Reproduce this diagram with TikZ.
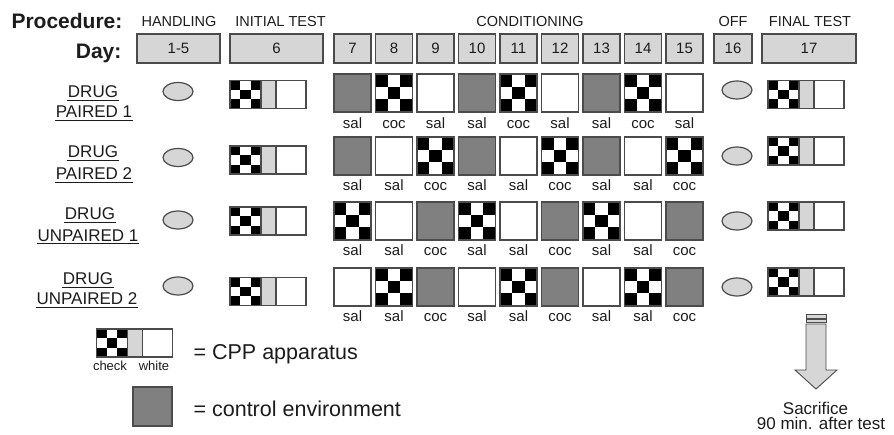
\documentclass[tikz,border=0pt]{standalone}
\usepackage{fontspec}
\setmainfont{Liberation Sans}
\usetikzlibrary{shapes.geometric}
\definecolor{pdlite}{RGB}{214,214,214}
\definecolor{pdmid}{RGB}{128,128,128}
\definecolor{pdedge}{RGB}{75,75,75}
\definecolor{pdink}{RGB}{28,28,28}
\tikzset{
  pics/cpp/.style={code={
    \fill[white] (-38,-14) rectangle (38,14);
    \fill[pdlite] (-7,-14) rectangle (8,14);
    \foreach \i/\j in {0/0,2/0,1/1,0/2,2/2}
      \fill[black] ({-38+\i*31/3},{-14+\j*28/3}) rectangle ++(31/3,28/3);
    \draw[pdedge] (-38,-14) rectangle (38,14) (-7,-14) -- (-7,14) (8,-14) -- (8,14);
  }}
}

\begin{document}
\begin{tikzpicture}[x=1pt,y=-1pt,line width=1.2pt,
  big/.style={font=\bfseries\fontsize{21}{24}\selectfont,text=pdink,anchor=base east,inner sep=0pt},
  head/.style={font=\fontsize{14.5}{17}\selectfont,text=pdink,anchor=base},
  daybox/.style={draw=pdedge,fill=pdlite,minimum height=29pt,inner sep=0pt,font=\fontsize{15}{17}\selectfont,text=pdink},
  grp/.style={font=\fontsize{17}{20}\selectfont,text=pdink,anchor=base,inner sep=0pt},
  uline/.style={pdink,line width=1pt},
  sq/.style={draw=pdedge,minimum width=37pt,minimum height=38pt,inner sep=0pt},
  ctl/.style={fill=pdmid},
  wht/.style={fill=white},
  chk/.style={fill=white,path picture={
    \foreach \i/\j in {0/0,2/0,1/1,0/2,2/2}
      \fill[black] ([shift={(\i*37/3,\j*38/3)}]path picture bounding box.north west) rectangle ++(37/3,38/3);}},
  dose/.style={font=\fontsize{15}{17}\selectfont,text=pdink,anchor=base},
  oval/.style={ellipse,draw=pdedge,fill=pdlite,minimum width=30pt,minimum height=18pt,inner sep=0pt},
  keytxt/.style={font=\fontsize{13}{15}\selectfont,text=pdink,anchor=base},
  legend/.style={font=\fontsize{21.5}{24}\selectfont,text=pdink,anchor=base west,inner sep=0pt},
  sacr/.style={font=\fontsize{17}{19}\selectfont,text=pdink,anchor=base}]

  \useasboundingbox (0,0) rectangle (894,435);

  \node[big] (proc) at (123,29) {Procedure:};
  \node[big] (day) at (122,59) {Day:};
  \node[head] (hand) at (179,26.5) {HANDLING};
  \node[head] (init) at (280.5,26.5) {INITIAL TEST};
  \node[head] (cond) at (530,26.5) {CONDITIONING};
  \node[head] (off) at (733,26.5) {OFF};
  \node[head] (fin) at (810,26.5) {FINAL TEST};

  \node[daybox,minimum width=83pt] (d5) at (178.5,48.5) {1-5};
  \node[daybox,minimum width=93pt] (d6) at (276.5,48.5) {6};
  \foreach \d [count=\k] in {7,...,15}
    \node[daybox,minimum width=37pt] (d\d) at ({352.5+41.5*(\k-1)},48.5) {\d};
  \node[daybox,minimum width=38pt] (d16) at (733,48.5) {16};
  \node[daybox,minimum width=94pt] (d17) at (809,48.5) {17};

  \node[grp] (p1a) at (93,98) {DRUG};
  \node[grp] (p1b) at (94,118) {PAIRED 1};
  \node[grp] (p2a) at (93,158) {DRUG};
  \node[grp] (p2b) at (94,180) {PAIRED 2};
  \node[grp] (u1a) at (90,220) {DRUG};
  \node[grp] (u1b) at (88,241.5) {UNPAIRED 1};
  \node[grp] (u2a) at (88,285) {DRUG};
  \node[grp] (u2b) at (87,305) {UNPAIRED 2};
  \foreach \n in {p1a,p1b,p2a,p2b,u1a,u1b,u2a,u2b}
    \draw[uline] ([yshift=-2.5pt]\n.base west) -- ([yshift=-2.5pt]\n.base east);

  \node[oval] (h1) at (178,91.5) {};
  \node[oval] (h2) at (178,157.5) {};
  \node[oval] (h3) at (178,220) {};
  \node[oval] (h4) at (178,286) {};
  \pic (i1) at (268,94.5) {cpp};
  \pic (i2) at (268,160) {cpp};
  \pic (i3) at (268,221) {cpp};
  \pic (i4) at (268,291.5) {cpp};

  \foreach \kind/\drug [count=\k] in {ctl/sal,chk/coc,wht/sal,ctl/sal,chk/coc,wht/sal,ctl/sal,chk/coc,wht/sal} {
    \node[sq,\kind] (p1-\k) at ({352.5+41.5*(\k-1)},93) {};
    \node[dose] (s1-\k) at ({352.5+41.5*(\k-1)},128.3) {\drug};
  }
  \foreach \kind/\drug [count=\k] in {ctl/sal,wht/sal,chk/coc,ctl/sal,wht/sal,chk/coc,ctl/sal,wht/sal,chk/coc} {
    \node[sq,\kind] (p2-\k) at ({352.5+41.5*(\k-1)},156) {};
    \node[dose] (s2-\k) at ({352.5+41.5*(\k-1)},190.7) {\drug};
  }
  \foreach \kind/\drug [count=\k] in {chk/sal,wht/sal,ctl/coc,chk/sal,wht/sal,ctl/coc,chk/sal,wht/sal,ctl/coc} {
    \node[sq,\kind] (u1-\k) at ({352.5+41.5*(\k-1)},221) {};
    \node[dose] (s3-\k) at ({352.5+41.5*(\k-1)},256) {\drug};
  }
  \foreach \kind/\drug [count=\k] in {wht/sal,chk/sal,ctl/coc,wht/sal,chk/sal,ctl/coc,wht/sal,chk/sal,ctl/coc} {
    \node[sq,\kind] (u2-\k) at ({352.5+41.5*(\k-1)},287) {};
    \node[dose] (s4-\k) at ({352.5+41.5*(\k-1)},321.7) {\drug};
  }

  \node[oval] (o1) at (737,90) {};
  \node[oval] (o2) at (737,156) {};
  \node[oval] (o3) at (737,221) {};
  \node[oval] (o4) at (737,287) {};
  \pic (f1) at (806,94.5) {cpp};
  \pic (f2) at (806,151) {cpp};
  \pic (f3) at (806,216) {cpp};
  \pic (f4) at (806,282) {cpp};

  \pic (key) at (134.5,343) {cpp};
  \node[keytxt] (kchk) at (110,370.5) {check};
  \node[keytxt] (kwht) at (154,370.5) {white};
  \node[legend] (kcpp) at (193,359.5) {= CPP apparatus};
  \node[sq,ctl,minimum width=39pt,minimum height=39pt] (kctl) at (152.5,406.5) {};
  \node[legend] (kenv) at (193,416) {= control environment};

  \draw[pdedge,fill=pdlite,line width=0.9pt] (806,314.3) rectangle (826,318.3) (806,319.5) rectangle (826,322.7);
  \draw[pdedge,fill=pdlite,line width=0.9pt] (806,324) -- (826,324) -- (826,370) -- (837,370)
    -- (816,389) -- (795,370) -- (806,370) -- cycle;
  \node[sacr] (sac1) at (815.5,414) {Sacrifice};
  \node[sacr] (sac2) at (821,429.3) {90 min. after test};
\end{tikzpicture}
\end{document}
